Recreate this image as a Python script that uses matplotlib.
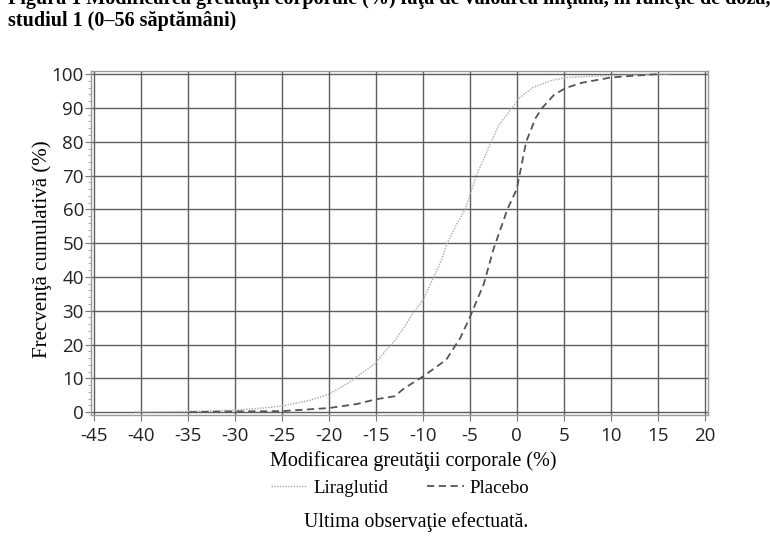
import matplotlib
matplotlib.use("Agg")
import matplotlib.pyplot as plt
from matplotlib.ticker import MultipleLocator

# Data
lira_x = [-40.6, -35, -30, -27, -25, -22, -20, -18, -17, -15, -14, -13, -12, -11, -10,
          -9, -8, -7.4, -6.5, -5.5, -4.3, -2.7, -1.9, -0.5, 0.3, 1.7, 3.5, 5.3, 10, 16.3]
lira_y = [0, 0.2, 0.6, 1.2, 1.8, 3.5, 5.3, 8.5, 10.5, 14.5, 18, 21, 25, 29.5, 33,
          39, 45, 50, 55, 60, 70, 80, 85, 90, 93, 96, 98, 99, 99.6, 100]
plac_x = [-34.8, -30, -25, -20, -17, -15, -13, -12, -10, -7.5, -6, -5, -3.5, -3, -2.5,
          -2, -1, 0, 1, 2, 2.7, 4, 5.3, 7, 10, 12.3, 15]
plac_y = [0, 0.2, 0.3, 1.2, 2.4, 3.8, 4.7, 7, 10.5, 15.5, 22, 28, 38, 43, 48,
          52, 60, 66, 80, 87, 90, 94, 96, 97.5, 99, 99.5, 100]

x_ticks = list(range(-45, 21, 5))
y_ticks = list(range(0, 101, 10))

title1 = "Figura 1 Modificarea greutăţii corporale (%) faţă de valoarea iniţială, în funcţie de doză, în"
title2 = "studiul 1 (0–56 săptămâni)"
xlabel = "Modificarea greutăţii corporale (%)"
ylabel = "Frecvenţă cumulativă (%)"
footer = "Ultima observaţie efectuată."
names = ["Liraglutid", "Placebo"]

fig = plt.figure(figsize=(7.7, 5.47), dpi=100)
ax = fig.add_axes([0.118, 0.241, 0.801, 0.629])

grid_c = "#5e5e5e"
ax.set_xlim(-45.3, 20.3)
ax.set_ylim(-0.9, 100.9)
ax.set_xticks(x_ticks)
ax.set_yticks(y_ticks)
ax.yaxis.set_minor_locator(MultipleLocator(2))
ax.grid(True, which="major", color=grid_c, lw=1.0)
ax.set_axisbelow(True)

l1, = ax.plot(lira_x, lira_y, color="#a8a8a8", lw=1.0, ls=(0, (1, 1)))
l2, = ax.plot(plac_x, plac_y, color="#555555", lw=1.3, ls=(0, (4, 2.5)))

for s in ax.spines.values():
    s.set_color("#9a9a9a")
    s.set_linewidth(1.0)

tick_font = dict(family="Open Sans", size=13.5)
ax.set_xticklabels([str(v) for v in x_ticks], fontdict=tick_font, color="#222222")
ax.set_yticklabels([str(v) for v in y_ticks], fontdict=tick_font, color="#222222")
ax.tick_params(axis="x", which="major", length=4, color="#777777", pad=4.5)
ax.tick_params(axis="y", which="major", length=4, color="#777777", pad=1)
ax.tick_params(axis="y", which="minor", length=2, color="#999999")

serif = "Liberation Serif"
fig.text(0.5 * (270 + 557) / 770, 1 - 461 / 547, xlabel, family=serif, size=14.5,
         ha="center", va="center")
fig.text(42 / 770, 1 - 249 / 547, ylabel, family=serif, size=15, rotation=90,
         ha="center", va="center")
fig.text(0.5 * (305 + 528) / 770, 1 - 522 / 547, footer, family=serif, size=14.3,
         ha="center", va="center")

# legend
leg = fig.legend([l1, l2], names, loc="center", bbox_to_anchor=(400 / 770, 1 - 488 / 547),
                 ncol=2, frameon=False, prop=dict(family=serif, size=13.5),
                 handlelength=1.95, handletextpad=0.3, columnspacing=2.1)

fig.text(8 / 770, 1 - 4 / 547, title1, family=serif, weight="bold", size=14.5,
         ha="left", va="baseline")
fig.text(8 / 770, 1 - 26 / 547, title2, family=serif, weight="bold", size=14.5,
         ha="left", va="baseline")

fig.savefig("out.png", dpi=100)
